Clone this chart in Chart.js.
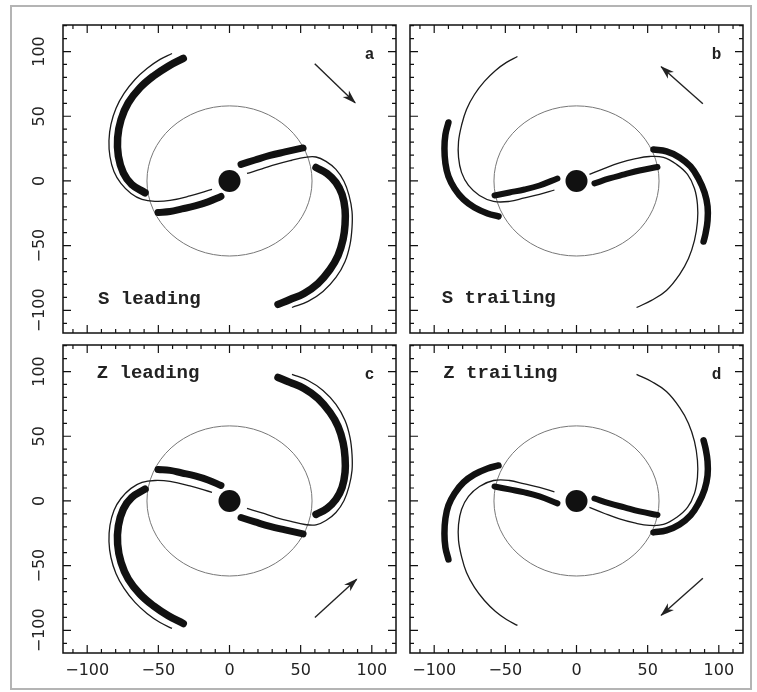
<!DOCTYPE html>
<html>
<head>
<meta charset="utf-8">
<script src="https://cdn.jsdelivr.net/npm/chart.js@4.4.1/dist/chart.umd.min.js"></script>
<style>
  html, body { margin: 0; padding: 0; background: #fff; }
  #wrap { position: relative; width: 757px; height: 692px; }
  #wrap canvas { position: absolute; left: 0; top: 0; }
  #border { position: absolute; left: 10px; top: 5px; width: 742px; height: 685px; border: 2px solid #b4b4b4; box-sizing: border-box; }
</style>
</head>
<body>
<div id="wrap">
  <div id="border"></div>
  <canvas id="panelA" width="757" height="692"></canvas>
  <canvas id="panelB" width="757" height="692"></canvas>
  <canvas id="panelC" width="757" height="692"></canvas>
  <canvas id="panelD" width="757" height="692"></canvas>
</div>
<script>
// Axis ticks
const majorTicks = [-100, -50, 0, 50, 100];
const minorTicks = [-110, -100, -90, -80, -70, -60, -50, -40, -30, -20, -10, 0, 10, 20, 30, 40, 50, 60, 70, 80, 90, 100, 110, 120];
const circleRadius = 58;
const core = [[0, 0]];

// Panel a - S leading
const aArmLThick = [[-32.5,94.7],[-43.0,88.7],[-53.5,81.0],[-62.9,72.0],[-71.1,60.4],[-76.2,47.5],[-78.6,33.4],[-78.1,19.2],[-74.6,6.3],[-68.7,-2.7],[-59.4,-9.1]];
const aArmLThin = [[-40.4,98.5],[-48.8,93.9],[-58.0,86.9],[-66.4,78.4],[-74.1,67.6],[-79.8,56.0],[-83.3,43.7],[-84.7,31.3],[-84.0,18.9],[-81.2,7.3],[-76.3,-1.9],[-69.2,-9.7],[-61.5,-14.3],[-52.4,-15.8],[-41.8,-15.1],[-27.8,-11.6],[-12.3,-6.6]];
const aBarLThick = [[-50.2,-24.3],[-41.8,-23.6],[-33.4,-21.6],[-24.2,-19.3],[-15.1,-16.2],[-6.0,-12.0]];
const aArmRThick = [[60.8,10.4],[68.5,5.8],[74.8,-1.2],[79.1,-10.4],[81.2,-22.0],[81.2,-33.6],[79.8,-45.2],[76.3,-57.6],[70.6,-68.4],[62.2,-79.2],[52.4,-86.9],[42.5,-91.6],[34.1,-95.4]];
const aArmRThin = [[12.3,5.8],[22.8,9.3],[32.7,12.8],[43.2,15.8],[53.0,18.2],[60.8,18.5],[67.8,15.1],[74.8,8.9],[80.5,-0.4],[84.0,-11.2],[86.1,-23.6],[86.1,-35.9],[84.7,-49.0],[81.2,-62.2],[74.8,-74.6],[65.7,-85.4],[55.2,-93.1],[43.9,-97.8]];
const aBarRThick = [[8.1,12.8],[17.9,16.2],[28.5,19.7],[39.0,22.4],[51.7,25.5]];
const aArrow = [[59.9,90.6],[88.3,60.4]];

// Panel b - S trailing
const bArmLThick = [[-90.0,45.2],[-92.1,35.9],[-92.8,25.1],[-92.1,13.5],[-90.0,3.5],[-85.7,-5.8],[-79.4,-14.3],[-71.7,-20.5],[-62.5,-25.1],[-54.8,-27.4]];
const bArmLThin = [[-41.5,96.2],[-49.2,91.6],[-56.9,85.4],[-64.7,76.9],[-71.7,66.8],[-77.3,55.3],[-80.8,42.9],[-82.9,30.5],[-82.9,18.2],[-80.8,6.6],[-75.9,-3.5],[-68.2,-11.2],[-58.3,-15.8],[-47.1,-15.8],[-36.5,-13.1],[-26.0,-10.4],[-15.5,-7.0]];
const bBarLThick = [[-57.6,-11.2],[-47.1,-8.9],[-36.5,-6.6],[-26.0,-3.5],[-13.4,1.9]];
const bArmRThick = [[54.1,24.3],[63.2,22.8],[72.4,18.2],[80.1,11.2],[85.7,1.9],[90.0,-8.9],[92.1,-19.7],[92.1,-30.5],[90.7,-40.6],[89.3,-46.8]];
const bArmRThin = [[9.1,5.0],[19.7,9.7],[30.2,13.9],[40.8,17.0],[51.3,18.9],[61.1,18.2],[70.3,12.8],[78.0,5.0],[82.9,-5.8],[85.0,-18.2],[85.0,-31.3],[82.9,-46.0],[78.7,-59.9],[72.4,-72.3],[63.2,-84.6],[52.7,-92.3],[42.2,-97.8]];
const bBarRThick = [[12.6,-1.9],[23.2,1.9],[33.7,5.0],[44.3,8.1],[56.9,10.8]];
const bArrow = [[88.8,59.7],[59.5,88.3]];

// Panel c - Z leading
const cArmLThick = [[-32.5,-94.7],[-43.0,-88.7],[-53.5,-81.0],[-62.9,-72.0],[-71.1,-60.4],[-76.2,-47.5],[-78.6,-33.4],[-78.1,-19.2],[-74.6,-6.3],[-68.7,2.7],[-59.4,9.1]];
const cArmLThin = [[-40.4,-98.5],[-48.8,-93.9],[-58.0,-86.9],[-66.4,-78.4],[-74.1,-67.6],[-79.8,-56.0],[-83.3,-43.7],[-84.7,-31.3],[-84.0,-18.9],[-81.2,-7.3],[-76.3,1.9],[-69.2,9.7],[-61.5,14.3],[-52.4,15.8],[-41.8,15.1],[-27.8,11.6],[-12.3,6.6]];
const cBarLThick = [[-50.2,24.3],[-41.8,23.6],[-33.4,21.6],[-24.2,19.3],[-15.1,16.2],[-6.0,12.0]];
const cArmRThick = [[60.8,-10.4],[68.5,-5.8],[74.8,1.2],[79.1,10.4],[81.2,22.0],[81.2,33.6],[79.8,45.2],[76.3,57.6],[70.6,68.4],[62.2,79.2],[52.4,86.9],[42.5,91.6],[34.1,95.4]];
const cArmRThin = [[12.3,-5.8],[22.8,-9.3],[32.7,-12.8],[43.2,-15.8],[53.0,-18.2],[60.8,-18.5],[67.8,-15.1],[74.8,-8.9],[80.5,0.4],[84.0,11.2],[86.1,23.6],[86.1,35.9],[84.7,49.0],[81.2,62.2],[74.8,74.6],[65.7,85.4],[55.2,93.1],[43.9,97.8]];
const cBarRThick = [[8.1,-12.8],[17.9,-16.2],[28.5,-19.7],[39.0,-22.4],[51.7,-25.5]];
const cArrow = [[60.0,-90.0],[89.4,-60.5]];

// Panel d - Z trailing
const dArmLThick = [[-90.0,-45.2],[-92.1,-35.9],[-92.8,-25.1],[-92.1,-13.5],[-90.0,-3.5],[-85.7,5.8],[-79.4,14.3],[-71.7,20.5],[-62.5,25.1],[-54.8,27.4]];
const dArmLThin = [[-41.5,-96.2],[-49.2,-91.6],[-56.9,-85.4],[-64.7,-76.9],[-71.7,-66.8],[-77.3,-55.3],[-80.8,-42.9],[-82.9,-30.5],[-82.9,-18.2],[-80.8,-6.6],[-75.9,3.5],[-68.2,11.2],[-58.3,15.8],[-47.1,15.8],[-36.5,13.1],[-26.0,10.4],[-15.5,7.0]];
const dBarLThick = [[-57.6,11.2],[-47.1,8.9],[-36.5,6.6],[-26.0,3.5],[-13.4,-1.9]];
const dArmRThick = [[54.1,-24.3],[63.2,-22.8],[72.4,-18.2],[80.1,-11.2],[85.7,-1.9],[90.0,8.9],[92.1,19.7],[92.1,30.5],[90.7,40.6],[89.3,46.8]];
const dArmRThin = [[9.1,-5.0],[19.7,-9.7],[30.2,-13.9],[40.8,-17.0],[51.3,-18.9],[61.1,-18.2],[70.3,-12.8],[78.0,-5.0],[82.9,5.8],[85.0,18.2],[85.0,31.3],[82.9,46.0],[78.7,59.9],[72.4,72.3],[63.2,84.6],[52.7,92.3],[42.2,97.8]];
const dBarRThick = [[12.6,1.9],[23.2,-1.9],[33.7,-5.0],[44.3,-8.1],[56.9,-10.8]];
const dArrow = [[88.8,-59.7],[59.5,-88.3]];

const panelTitles = ['S leading', 'S trailing', 'Z leading', 'Z trailing'];
const panelLetters = ['a', 'b', 'c', 'd'];

const pts = arr => arr.map(([x, y]) => ({ x, y }));

function band(data, width) {
    return { data: pts(data), showLine: true, borderColor: '#111', borderWidth: width,
             pointRadius: 0, tension: 0.4, borderCapStyle: 'round', borderJoinStyle: 'round' };
}
function thin(data) {
    return { data: pts(data), showLine: true, borderColor: '#1a1a1a', borderWidth: 1.3,
             pointRadius: 0, tension: 0.4 };
}
function arrow(data) {
    return { data: pts(data), showLine: true, borderColor: '#222', borderWidth: 1.4,
             pointRadius: 0, tension: 0, isArrow: true };
}
function dot() {
    return { data: pts(core), showLine: false, pointRadius: 11, pointBackgroundColor: '#111',
             pointBorderWidth: 0 };
}

// Frame, ticks, labels, circle, arrow heads
const decor = {
    id: 'decor',
    beforeDatasetsDraw(chart) {
        const { ctx, scales: { x, y } } = chart;
        const cx = x.getPixelForValue(0), cy = y.getPixelForValue(0);
        const rx = x.getPixelForValue(circleRadius) - cx;
        const ry = cy - y.getPixelForValue(circleRadius);
        ctx.save();
        ctx.beginPath();
        ctx.ellipse(cx, cy, rx, ry, 0, 0, Math.PI * 2);
        ctx.strokeStyle = '#777';
        ctx.lineWidth = 1;
        ctx.stroke();
        ctx.restore();
    },
    afterDatasetsDraw(chart, args, opts) {
        const { ctx, chartArea: a, scales: { x, y } } = chart;
        ctx.save();
        // frame
        ctx.strokeStyle = '#111';
        ctx.lineWidth = 1.5;
        ctx.strokeRect(a.left, a.top, a.right - a.left, a.bottom - a.top);
        // inward ticks
        ctx.lineWidth = 1.2;
        ctx.beginPath();
        minorTicks.forEach(v => {
            const len = majorTicks.includes(v) ? 8 : 4;
            if (v >= x.min && v <= x.max) {
                const px = x.getPixelForValue(v);
                ctx.moveTo(px, a.bottom); ctx.lineTo(px, a.bottom - len);
                ctx.moveTo(px, a.top); ctx.lineTo(px, a.top + len);
            }
            if (v >= y.min && v <= y.max) {
                const py = y.getPixelForValue(v);
                ctx.moveTo(a.left, py); ctx.lineTo(a.left + len, py);
                ctx.moveTo(a.right, py); ctx.lineTo(a.right - len, py);
            }
        });
        ctx.stroke();

        // tick labels
        ctx.fillStyle = '#222';
        ctx.font = '16px "DejaVu Sans"';
        ctx.textAlign = 'center';
        ctx.textBaseline = 'middle';
        const fmt = v => (v < 0 ? '\u2212' + Math.abs(v) : String(v));
        if (opts.showX) {
            majorTicks.forEach(v => {
                ctx.fillText(fmt(v), x.getPixelForValue(v), a.bottom + 18);
            });
        }
        if (opts.showY) {
            majorTicks.forEach(v => {
                ctx.save();
                ctx.translate(a.left - 23, y.getPixelForValue(v));
                ctx.rotate(-Math.PI / 2);
                ctx.fillText(fmt(v), 0, 0);
                ctx.restore();
            });
        }

        // panel title and letter
        ctx.font = 'bold 19px "Liberation Mono"';
        ctx.textAlign = 'left';
        ctx.fillText(opts.title, x.getPixelForValue(opts.titleAt[0]), y.getPixelForValue(opts.titleAt[1]));
        ctx.font = 'bold 16px "Liberation Mono"';
        ctx.textAlign = 'center';
        ctx.fillText(opts.letter, x.getPixelForValue(98.5), y.getPixelForValue(97.5));

        // arrow heads
        chart.data.datasets.forEach((ds, i) => {
            if (!ds.isArrow) return;
            const el = chart.getDatasetMeta(i).data;
            const p0 = el[0], p1 = el[el.length - 1];
            const ang = Math.atan2(p1.y - p0.y, p1.x - p0.x);
            ctx.save();
            ctx.translate(p1.x, p1.y);
            ctx.rotate(ang);
            ctx.beginPath();
            ctx.moveTo(1, 0);
            ctx.lineTo(-13, -4.5);
            ctx.lineTo(-9, 0);
            ctx.lineTo(-13, 4.5);
            ctx.closePath();
            ctx.fillStyle = '#222';
            ctx.fill();
            ctx.restore();
        });
        ctx.restore();
    }
};

function makePanel(id, area, sets, bandW, decorOpts) {
    new Chart(document.getElementById(id), {
        type: 'scatter',
        data: {
            datasets: [
                band(sets[0], bandW), thin(sets[1]), band(sets[2], bandW - 0.5),
                band(sets[3], bandW), thin(sets[4]), band(sets[5], bandW - 0.5),
                arrow(sets[6]), dot()
            ]
        },
        options: {
            responsive: false,
            animation: false,
            events: [],
            layout: { padding: { left: area[0], top: area[1], right: 757 - area[2], bottom: 692 - area[3] } },
            scales: {
                x: { type: 'linear', min: -117, max: 117, display: false },
                y: { type: 'linear', min: -117.5, max: 120.5, display: false }
            },
            plugins: { legend: { display: false }, tooltip: { enabled: false }, decor: decorOpts }
        },
        plugins: [decor]
    });
}

makePanel('panelA', [63, 25, 396, 333],
    [aArmLThick, aArmLThin, aBarLThick, aArmRThick, aArmRThin, aBarRThick, aArrow], 7.5,
    { title: panelTitles[0], letter: panelLetters[0], titleAt: [-92.4, -91.6], showX: false, showY: true });
makePanel('panelB', [410, 25, 743, 333],
    [bArmLThick, bArmLThin, bBarLThick, bArmRThick, bArmRThin, bBarRThick, bArrow], 6.5,
    { title: panelTitles[1], letter: panelLetters[1], titleAt: [-94.7, -90.8], showX: false, showY: false });
makePanel('panelC', [63, 345, 396, 653],
    [cArmLThick, cArmLThin, cBarLThick, cArmRThick, cArmRThin, cBarRThick, cArrow], 7.5,
    { title: panelTitles[2], letter: panelLetters[2], titleAt: [-93.3, 98.6], showX: true, showY: true });
makePanel('panelD', [410, 345, 743, 653],
    [dArmLThick, dArmLThin, dBarLThick, dArmRThick, dArmRThin, dBarRThick, dArrow], 6.5,
    { title: panelTitles[3], letter: panelLetters[3], titleAt: [-93.6, 98.6], showX: true, showY: false });
</script>
</body>
</html>
